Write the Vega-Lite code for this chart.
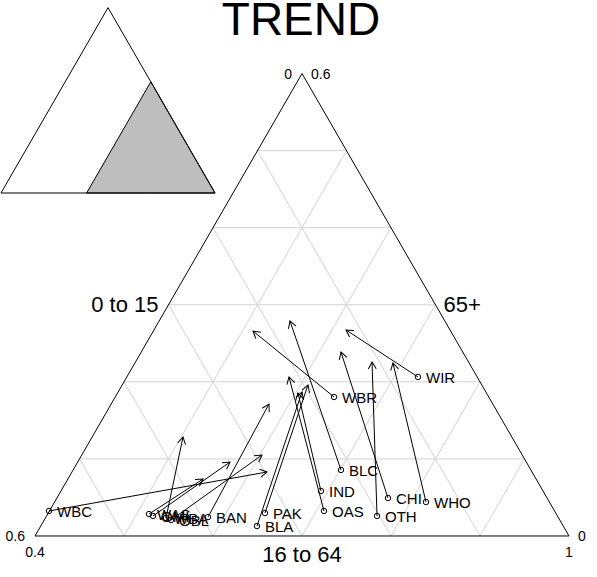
{
  "$schema": "https://vega.github.io/schema/vega-lite/v6.json",
  "width": 597,
  "height": 577,
  "autosize": "none",
  "padding": 0,
  "background": "white",
  "config": {"view": {"stroke": null}, "font": "Liberation Sans", "text": {"font": "Liberation Sans"}},
  "datasets": {
    "groups": [
      {"code": "WBC", "x": 0.4157, "y": 0.0281, "xend": 0.6607, "yend": 0.0719},
      {"code": "WBA", "x": 0.5472, "y": 0.0202, "xend": 0.5663, "yend": 0.1112},
      {"code": "WAS", "x": 0.5281, "y": 0.0247, "xend": 0.5888, "yend": 0.0640},
      {"code": "OMI", "x": 0.5326, "y": 0.0225, "xend": 0.6191, "yend": 0.0831},
      {"code": "OBL", "x": 0.5528, "y": 0.0180, "xend": 0.6551, "yend": 0.0910},
      {"code": "BAN", "x": 0.5944, "y": 0.0213, "xend": 0.6629, "yend": 0.1483},
      {"code": "PAK", "x": 0.6584, "y": 0.0258, "xend": 0.7067, "yend": 0.1697},
      {"code": "BLA", "x": 0.6494, "y": 0.0112, "xend": 0.7000, "yend": 0.1618},
      {"code": "IND", "x": 0.7213, "y": 0.0506, "xend": 0.6955, "yend": 0.1607},
      {"code": "OAS", "x": 0.7247, "y": 0.0281, "xend": 0.6854, "yend": 0.1787},
      {"code": "BLC", "x": 0.7438, "y": 0.0742, "xend": 0.6865, "yend": 0.2416},
      {"code": "OTH", "x": 0.7843, "y": 0.0225, "xend": 0.7787, "yend": 0.1955},
      {"code": "CHI", "x": 0.7966, "y": 0.0427, "xend": 0.7438, "yend": 0.2067},
      {"code": "WHO", "x": 0.8393, "y": 0.0382, "xend": 0.8022, "yend": 0.1944},
      {"code": "WBR", "x": 0.7360, "y": 0.1562, "xend": 0.6449, "yend": 0.2303},
      {"code": "WIR", "x": 0.8303, "y": 0.1787, "xend": 0.7494, "yend": 0.2315}
    ],
    "grid": [
      {"x": 0.45, "y": 0.0866, "xend": 0.95, "yend": 0.0866},
      {"x": 0.5, "y": 0.1732, "xend": 0.9, "yend": 0.1732},
      {"x": 0.55, "y": 0.2598, "xend": 0.85, "yend": 0.2598},
      {"x": 0.6, "y": 0.3464, "xend": 0.8, "yend": 0.3464},
      {"x": 0.65, "y": 0.4330, "xend": 0.75, "yend": 0.4330},
      {"x": 0.5, "y": 0, "xend": 0.75, "yend": 0.4330},
      {"x": 0.6, "y": 0, "xend": 0.8, "yend": 0.3464},
      {"x": 0.7, "y": 0, "xend": 0.85, "yend": 0.2598},
      {"x": 0.8, "y": 0, "xend": 0.9, "yend": 0.1732},
      {"x": 0.9, "y": 0, "xend": 0.95, "yend": 0.0866},
      {"x": 0.9, "y": 0, "xend": 0.65, "yend": 0.4330},
      {"x": 0.8, "y": 0, "xend": 0.6, "yend": 0.3464},
      {"x": 0.7, "y": 0, "xend": 0.55, "yend": 0.2598},
      {"x": 0.6, "y": 0, "xend": 0.5, "yend": 0.1732},
      {"x": 0.5, "y": 0, "xend": 0.45, "yend": 0.0866}
    ],
    "edges": [
      {"x": 0.4, "y": 0, "xend": 1, "yend": 0},
      {"x": 0.4, "y": 0, "xend": 0.7, "yend": 0.5196},
      {"x": 1, "y": 0, "xend": 0.7, "yend": 0.5196}
    ]
  },
  "layer": [
    {
      "layer": [
        {
          "data": {"values": [{"x": 0.4, "y": 0}, {"x": 0.7, "y": 0.5196}, {"x": 1, "y": 0}]},
          "mark": {"type": "area", "fill": "#BEBEBE", "stroke": "black", "strokeWidth": 1, "interpolate": "linear"},
          "encoding": {
            "x": {"field": "x", "type": "quantitative", "scale": {"domain": [-0.00467, 2.785], "nice": false, "zero": false}, "axis": null},
            "y": {"field": "y", "type": "quantitative", "stack": null, "scale": {"domain": [-1.7944, 0.9019], "nice": false, "zero": false}, "axis": null},
            "y2": {"datum": 0}
          }
        },
        {
          "data": {"values": [
            {"x": 0, "y": 0, "xend": 1, "yend": 0},
            {"x": 0, "y": 0, "xend": 0.5, "yend": 0.866},
            {"x": 1, "y": 0, "xend": 0.5, "yend": 0.866}
          ]},
          "mark": {"type": "rule", "color": "black", "strokeWidth": 1},
          "encoding": {
            "x": {"field": "x", "type": "quantitative", "scale": {"domain": [-0.00467, 2.785], "nice": false, "zero": false}, "axis": null},
            "y": {"field": "y", "type": "quantitative", "scale": {"domain": [-1.7944, 0.9019], "nice": false, "zero": false}, "axis": null},
            "x2": {"field": "xend"},
            "y2": {"field": "yend"}
          }
        }
      ]
    },
    {
      "layer": [
        {
          "data": {"name": "grid"},
          "mark": {"type": "rule", "color": "#D3D3D3", "strokeWidth": 1},
          "encoding": {
            "x": {"field": "x", "type": "quantitative", "scale": {"domain": [0.36067, 1.03146], "nice": false, "zero": false}, "axis": null},
            "y": {"field": "y", "type": "quantitative", "scale": {"domain": [-0.04607, 0.60225], "nice": false, "zero": false}, "axis": null},
            "x2": {"field": "xend"},
            "y2": {"field": "yend"}
          }
        },
        {
          "data": {"name": "edges"},
          "mark": {"type": "rule", "color": "black", "strokeWidth": 1},
          "encoding": {
            "x": {"field": "x", "type": "quantitative", "scale": {"domain": [0.36067, 1.03146], "nice": false, "zero": false}, "axis": null},
            "y": {"field": "y", "type": "quantitative", "scale": {"domain": [-0.04607, 0.60225], "nice": false, "zero": false}, "axis": null},
            "x2": {"field": "xend"},
            "y2": {"field": "yend"}
          }
        },
        {
          "data": {"name": "groups"},
          "mark": {"type": "rule", "color": "black", "strokeWidth": 1},
          "encoding": {
            "x": {"field": "x", "type": "quantitative", "scale": {"domain": [0.36067, 1.03146], "nice": false, "zero": false}, "axis": null},
            "y": {"field": "y", "type": "quantitative", "scale": {"domain": [-0.04607, 0.60225], "nice": false, "zero": false}, "axis": null},
            "x2": {"field": "xend"},
            "y2": {"field": "yend"}
          }
        },
        {
          "data": {"name": "groups"},
          "transform": [{"calculate": "atan2(datum.xend - datum.x, datum.yend - datum.y) * 180 / PI", "as": "heading"}],
          "mark": {"type": "point", "shape": "M-0.5,0.866L0,0L0.5,0.866", "filled": false, "color": "black", "opacity": 1, "strokeWidth": 1, "size": 256},
          "encoding": {
            "x": {"field": "xend", "type": "quantitative", "scale": {"domain": [0.36067, 1.03146], "nice": false, "zero": false}, "axis": null},
            "y": {"field": "yend", "type": "quantitative", "scale": {"domain": [-0.04607, 0.60225], "nice": false, "zero": false}, "axis": null},
            "angle": {"field": "heading", "type": "quantitative", "scale": null}
          }
        },
        {
          "data": {"name": "groups"},
          "mark": {"type": "point", "shape": "circle", "filled": false, "color": "black", "opacity": 1, "strokeWidth": 1, "size": 30},
          "encoding": {
            "x": {"field": "x", "type": "quantitative", "scale": {"domain": [0.36067, 1.03146], "nice": false, "zero": false}, "axis": null},
            "y": {"field": "y", "type": "quantitative", "scale": {"domain": [-0.04607, 0.60225], "nice": false, "zero": false}, "axis": null}
          }
        },
        {
          "data": {"name": "groups"},
          "mark": {"type": "text", "align": "left", "baseline": "middle", "dx": 8, "dy": 1, "fontSize": 15, "color": "black"},
          "encoding": {
            "x": {"field": "x", "type": "quantitative", "scale": {"domain": [0.36067, 1.03146], "nice": false, "zero": false}, "axis": null},
            "y": {"field": "y", "type": "quantitative", "scale": {"domain": [-0.04607, 0.60225], "nice": false, "zero": false}, "axis": null},
            "text": {"field": "code"}
          }
        },
        {
          "data": {"values": [{"t": "0.6", "x": 0.4, "y": 0}, {"t": "0", "x": 0.7, "y": 0.5196}]},
          "mark": {"type": "text", "align": "right", "baseline": "middle", "dx": -10, "dy": 1, "fontSize": 14, "color": "black"},
          "encoding": {
            "x": {"field": "x", "type": "quantitative", "scale": {"domain": [0.36067, 1.03146], "nice": false, "zero": false}, "axis": null},
            "y": {"field": "y", "type": "quantitative", "scale": {"domain": [-0.04607, 0.60225], "nice": false, "zero": false}, "axis": null},
            "text": {"field": "t"}
          }
        },
        {
          "data": {"values": [{"t": "0", "x": 1, "y": 0}, {"t": "0.6", "x": 0.7, "y": 0.5196}]},
          "mark": {"type": "text", "align": "left", "baseline": "middle", "dx": 9, "dy": 1, "fontSize": 14, "color": "black"},
          "encoding": {
            "x": {"field": "x", "type": "quantitative", "scale": {"domain": [0.36067, 1.03146], "nice": false, "zero": false}, "axis": null},
            "y": {"field": "y", "type": "quantitative", "scale": {"domain": [-0.04607, 0.60225], "nice": false, "zero": false}, "axis": null},
            "text": {"field": "t"}
          }
        },
        {
          "data": {"values": [{"t": "0.4", "x": 0.4, "y": 0}, {"t": "1", "x": 1, "y": 0}]},
          "mark": {"type": "text", "align": "center", "baseline": "middle", "dy": 17, "fontSize": 14, "color": "black"},
          "encoding": {
            "x": {"field": "x", "type": "quantitative", "scale": {"domain": [0.36067, 1.03146], "nice": false, "zero": false}, "axis": null},
            "y": {"field": "y", "type": "quantitative", "scale": {"domain": [-0.04607, 0.60225], "nice": false, "zero": false}, "axis": null},
            "text": {"field": "t"}
          }
        },
        {
          "data": {"values": [{"t": "16 to 64", "x": 0.7, "y": 0}]},
          "mark": {"type": "text", "align": "center", "baseline": "middle", "dy": 19, "fontSize": 22, "color": "black"},
          "encoding": {
            "x": {"field": "x", "type": "quantitative", "scale": {"domain": [0.36067, 1.03146], "nice": false, "zero": false}, "axis": null},
            "y": {"field": "y", "type": "quantitative", "scale": {"domain": [-0.04607, 0.60225], "nice": false, "zero": false}, "axis": null},
            "text": {"field": "t"}
          }
        },
        {
          "data": {"values": [{"t": "0 to 15", "x": 0.55, "y": 0.2598}]},
          "mark": {"type": "text", "align": "right", "baseline": "middle", "dx": -10, "fontSize": 22, "color": "black"},
          "encoding": {
            "x": {"field": "x", "type": "quantitative", "scale": {"domain": [0.36067, 1.03146], "nice": false, "zero": false}, "axis": null},
            "y": {"field": "y", "type": "quantitative", "scale": {"domain": [-0.04607, 0.60225], "nice": false, "zero": false}, "axis": null},
            "text": {"field": "t"}
          }
        },
        {
          "data": {"values": [{"t": "65+", "x": 0.85, "y": 0.2598}]},
          "mark": {"type": "text", "align": "left", "baseline": "middle", "dx": 8, "fontSize": 22, "color": "black"},
          "encoding": {
            "x": {"field": "x", "type": "quantitative", "scale": {"domain": [0.36067, 1.03146], "nice": false, "zero": false}, "axis": null},
            "y": {"field": "y", "type": "quantitative", "scale": {"domain": [-0.04607, 0.60225], "nice": false, "zero": false}, "axis": null},
            "text": {"field": "t"}
          }
        },
        {
          "data": {"values": [{"t": "TREND", "x": 0.6989, "y": 0.5629}]},
          "mark": {"type": "text", "align": "center", "baseline": "alphabetic", "fontSize": 46, "color": "black"},
          "encoding": {
            "x": {"field": "x", "type": "quantitative", "scale": {"domain": [0.36067, 1.03146], "nice": false, "zero": false}, "axis": null},
            "y": {"field": "y", "type": "quantitative", "scale": {"domain": [-0.04607, 0.60225], "nice": false, "zero": false}, "axis": null},
            "text": {"field": "t"}
          }
        }
      ]
    }
  ],
  "resolve": {"scale": {"x": "independent", "y": "independent"}}
}
